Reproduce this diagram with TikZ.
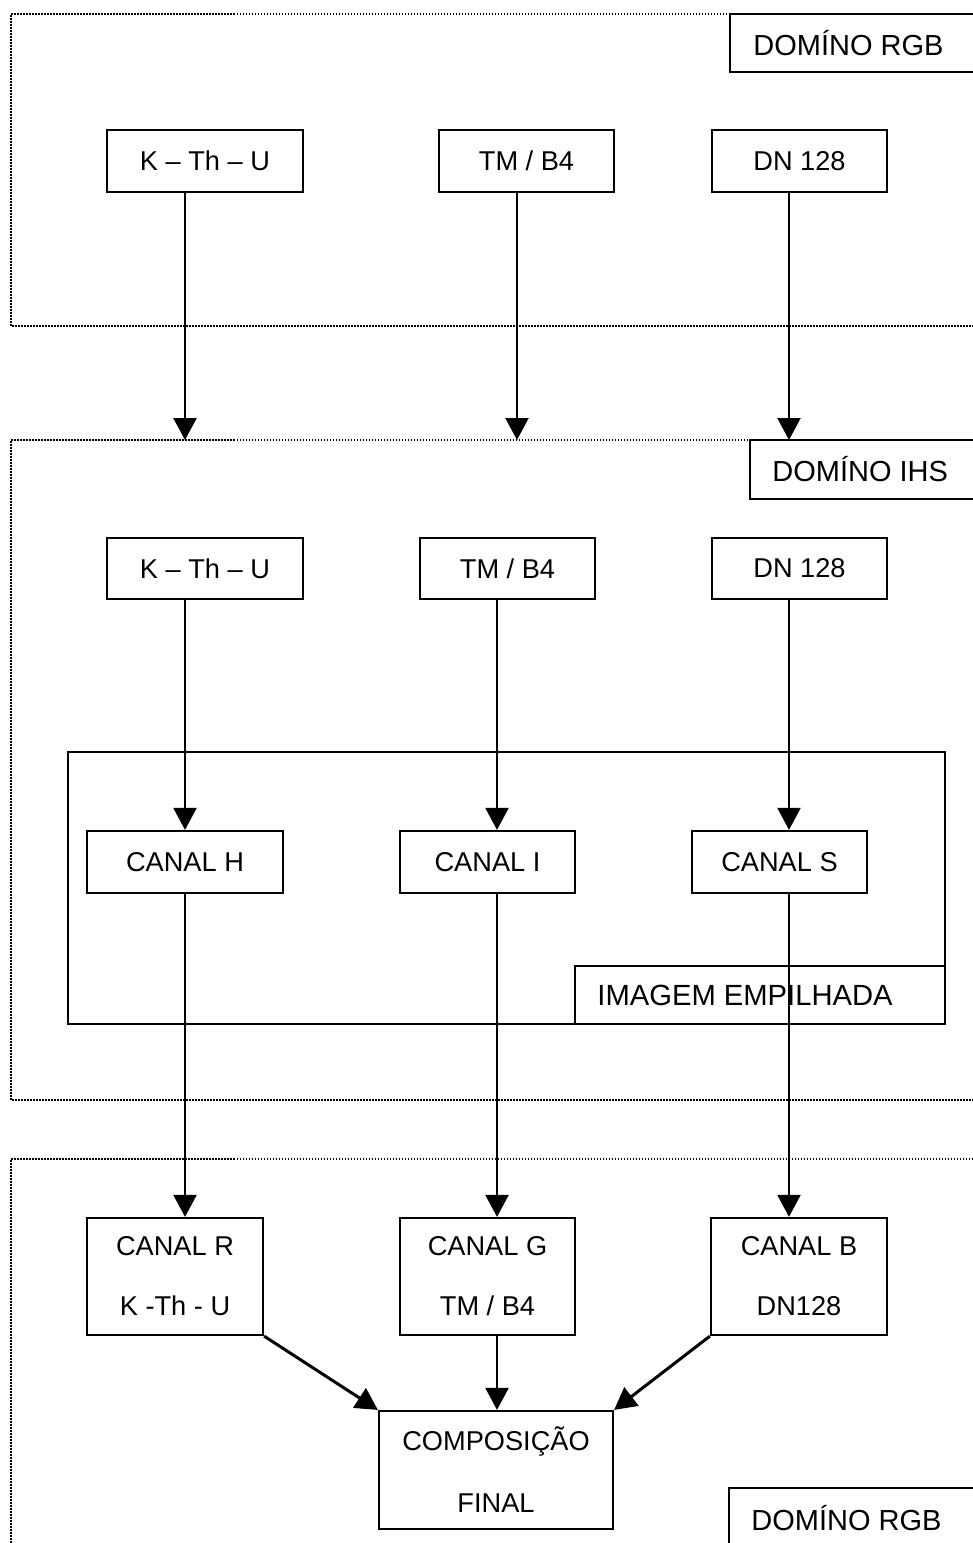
\documentclass[tikz,border=0pt]{standalone}
\usepackage{fontspec}
\setmainfont{Liberation Sans}
\usetikzlibrary{arrows.meta}
\begin{document}
\begin{tikzpicture}[x=0.5pt,y=-0.5pt,
  box/.style={draw,line width=1.1pt,inner sep=0pt,align=center,font=\fontsize{13.6}{16}\selectfont},
  twobox/.style={box,font=\fontsize{13.6}{30}\selectfont},
  lbl/.style={inner sep=0pt,anchor=west,font=\fontsize{14.5}{16}\selectfont},
  frameline/.style={line width=1.1pt},
  dom/.style={line width=1.2pt,dash pattern=on 0.75pt off 0.75pt},
  arr/.style={line width=1.1pt,-{Triangle[width=11.5pt,length=11pt]}},
  darr/.style={line width=1.5pt,-{Triangle[width=11.5pt,length=11pt]}}]
\useasboundingbox (0,0) rectangle (973,1543);
% domains (dotted)
\draw[dom] (973,14) -- (11,14) -- (11,326) -- (973,326);
\draw[dom] (973,440) -- (11,440) -- (11,1100) -- (973,1100);
\draw[dom] (973,1159) -- (11,1159) -- (11,1543);
% domain labels
\draw[frameline,fill=white] (1000,14) -- (730,14) -- (730,72) -- (1000,72);
\node[lbl] (lrgb1) at (753,43) {DOMÍNO RGB};
\draw[frameline,fill=white] (1000,440) -- (750,440) -- (750,499) -- (1000,499);
\node[lbl] (lihs) at (772,469.5) {DOMÍNO IHS};
\draw[frameline,fill=white] (1000,1488) -- (729,1488) -- (729,1560);
\node[lbl] (lrgb2) at (751,1518) {DOMÍNO RGB};
% stacked image frame
\draw[frameline] (68,752) rectangle (945,1024);
\draw[frameline] (575,966) rectangle (945,1024);
\node[lbl,font=\fontsize{14.6}{16}\selectfont] (lemp) at (597,995) {IMAGEM EMPILHADA};
% columns
\coordinate (xa) at (185,0);
\coordinate (xb) at (517,0);
\coordinate (xc) at (789,0);
\coordinate (xd) at (497,0);
\coordinate (t1) at (185,440);
\coordinate (t2) at (517,440);
\coordinate (t3) at (789,440);
% RGB row
\node[box,minimum width=98pt,minimum height=31pt] (rk) at (205,161) {K – Th – U};
\node[box,minimum width=87.5pt,minimum height=31pt] (rt) at (526.5,161) {TM / B4};
\node[box,minimum width=87.5pt,minimum height=31pt] (rd) at (799.5,161) {DN 128};
% IHS row
\node[box,minimum width=98pt,minimum height=30.5pt] (ik) at (205,568.5) {K – Th – U};
\node[box,minimum width=87.5pt,minimum height=30.5pt] (it) at (507.5,568.5) {TM / B4};
\node[box,minimum width=87.5pt,minimum height=30.5pt] (id) at (799.5,568.5) {DN 128};
% channels
\node[box,minimum width=98pt,minimum height=31pt] (ch) at (185,862) {CANAL H};
\node[box,minimum width=87.5pt,minimum height=31pt] (ci) at (487.5,862) {CANAL I};
\node[box,minimum width=87.5pt,minimum height=31pt] (cs) at (779.5,862) {CANAL S};
% RGB channels
\node[twobox,minimum width=88pt,minimum height=58.5pt] (cr) at (175,1276.5) {CANAL R\\K -Th - U};
\node[twobox,minimum width=87.5pt,minimum height=58.5pt] (cg) at (487.5,1276.5) {CANAL G\\TM / B4};
\node[twobox,minimum width=88pt,minimum height=58.5pt] (cb) at (799,1276.5) {CANAL B\\DN128};
\node[box,font=\fontsize{13.6}{31}\selectfont,minimum width=117pt,minimum height=59pt] (cf) at (496,1470) {COMPOSIÇÃO\\FINAL};
% arrows
\draw[arr] (rk.south -| t1) -- (t1);
\draw[arr] (rt.south -| t2) -- (t2);
\draw[arr] (rd.south -| t3) -- (t3);
\draw[arr] (ik.south -| xa) -- (ch.north -| xa);
\draw[arr] (it.south -| xd) -- (ci.north -| xd);
\draw[arr] (id.south -| xc) -- (cs.north -| xc);
\draw[arr] (ch.south -| xa) -- (cr.north -| xa);
\draw[arr] (ci.south -| xd) -- (cg.north -| xd);
\draw[arr] (cs.south -| xc) -- (cb.north -| xc);
\draw[darr] (cr.south east) -- (cf.north west);
\draw[arr] (cg.south -| xd) -- (cf.north -| xd);
\draw[darr] (cb.south west) -- (cf.north east);
\end{tikzpicture}
\end{document}
